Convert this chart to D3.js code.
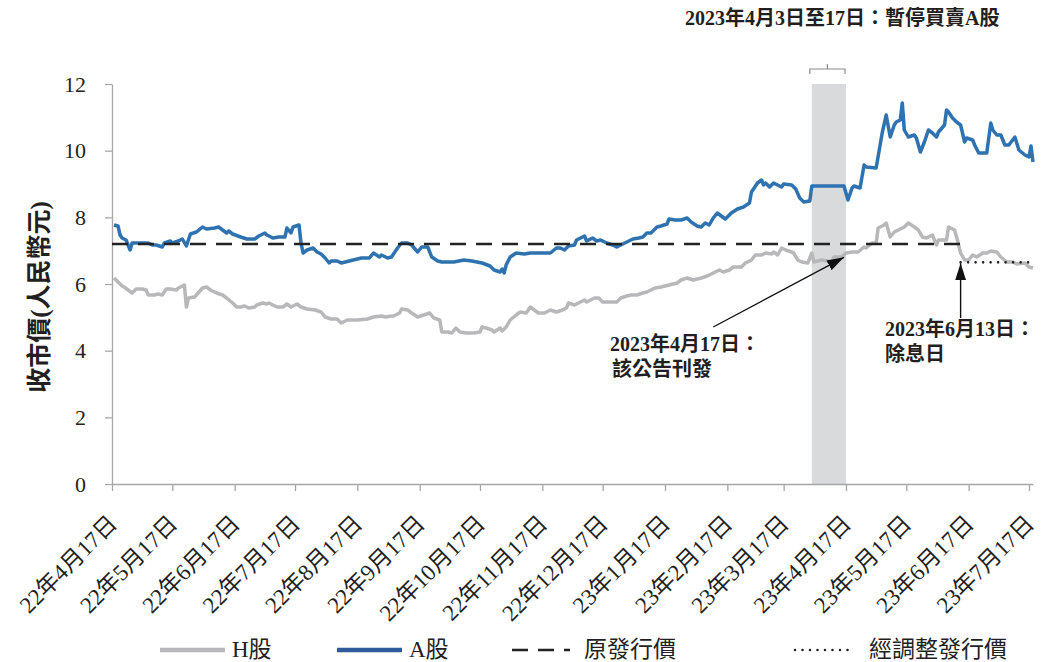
<!DOCTYPE html>
<html>
<head>
<meta charset="utf-8">
<script src="https://cdn.jsdelivr.net/npm/d3@7/dist/d3.min.js"></script>
<style>
body { margin: 0; background: #fff; }
text { font-family: "Liberation Serif", "Noto Sans CJK TC", serif; fill: #231f20; }
.axis path, .axis line { stroke: #a6a6a6; stroke-width: 1.3; }
</style>
</head>
<body>
<div id="chart"></div>
<script>
// A股 closing price (RMB)
const aDates = ["2022-04-18","2022-04-20","2022-04-21","2022-04-22","2022-04-24","2022-04-26","2022-04-27","2022-04-30","2022-05-05","2022-05-07","2022-05-09","2022-05-12","2022-05-13","2022-05-16","2022-05-17","2022-05-20","2022-05-22","2022-05-24","2022-05-26","2022-05-29","2022-06-01","2022-06-03","2022-06-07","2022-06-09","2022-06-13","2022-06-14","2022-06-16","2022-06-20","2022-06-23","2022-06-27","2022-06-29","2022-07-02","2022-07-03","2022-07-06","2022-07-09","2022-07-12","2022-07-13","2022-07-15","2022-07-16","2022-07-19","2022-07-20","2022-07-21","2022-07-23","2022-07-26","2022-07-28","2022-07-30","2022-08-01","2022-08-03","2022-08-04","2022-08-07","2022-08-09","2022-08-11","2022-08-15","2022-08-19","2022-08-23","2022-08-25","2022-08-28","2022-08-29","2022-09-01","2022-09-03","2022-09-06","2022-09-08","2022-09-11","2022-09-13","2022-09-16","2022-09-18","2022-09-21","2022-09-23","2022-09-26","2022-09-28","2022-10-04","2022-10-09","2022-10-13","2022-10-18","2022-10-22","2022-10-24","2022-10-27","2022-10-28","2022-10-29","2022-10-30","2022-11-01","2022-11-04","2022-11-08","2022-11-11","2022-11-14","2022-11-18","2022-11-21","2022-11-24","2022-11-26","2022-11-28","2022-11-30","2022-12-03","2022-12-04","2022-12-08","2022-12-09","2022-12-12","2022-12-14","2022-12-16","2022-12-19","2022-12-22","2022-12-24","2022-12-26","2022-12-29","2023-01-01","2023-01-04","2023-01-06","2023-01-08","2023-01-10","2023-01-13","2023-01-15","2023-01-18","2023-01-19","2023-01-22","2023-01-25","2023-01-28","2023-01-30","2023-02-02","2023-02-04","2023-02-06","2023-02-08","2023-02-10","2023-02-12","2023-02-14","2023-02-16","2023-02-19","2023-02-22","2023-02-25","2023-02-28","2023-03-01","2023-03-04","2023-03-06","2023-03-07","2023-03-08","2023-03-10","2023-03-12","2023-03-14","2023-03-16","2023-03-17","2023-03-21","2023-03-23","2023-03-25","2023-03-27","2023-03-30","2023-03-31","2023-04-16","2023-04-18","2023-04-20","2023-04-21","2023-04-24","2023-04-26","2023-04-27","2023-05-02","2023-05-05","2023-05-07","2023-05-09","2023-05-11","2023-05-12","2023-05-14","2023-05-15","2023-05-16","2023-05-18","2023-05-21","2023-05-22","2023-05-24","2023-05-26","2023-05-28","2023-05-30","2023-06-01","2023-06-02","2023-06-05","2023-06-06","2023-06-07","2023-06-09","2023-06-11","2023-06-13","2023-06-15","2023-06-16","2023-06-19","2023-06-20","2023-06-22","2023-06-26","2023-06-28","2023-06-29","2023-07-01","2023-07-03","2023-07-05","2023-07-07","2023-07-10","2023-07-12","2023-07-15","2023-07-17","2023-07-18","2023-07-19"];
const aValues = [7.77,7.74,7.47,7.38,7.32,7.02,7.23,7.23,7.23,7.17,7.17,7.11,7.23,7.29,7.23,7.29,7.35,7.14,7.50,7.56,7.71,7.65,7.68,7.71,7.53,7.59,7.50,7.41,7.35,7.35,7.44,7.53,7.47,7.38,7.41,7.41,7.68,7.53,7.71,7.77,7.23,6.93,7.02,7.08,6.96,6.90,6.78,6.63,6.69,6.69,6.63,6.66,6.72,6.78,6.78,6.93,6.81,6.87,6.78,6.81,7.08,7.23,7.23,7.17,6.96,7.11,7.11,6.81,6.69,6.66,6.66,6.72,6.69,6.63,6.54,6.42,6.36,6.45,6.33,6.57,6.81,6.93,6.90,6.93,6.93,6.93,6.93,7.08,7.08,7.02,7.14,7.17,7.32,7.44,7.29,7.38,7.29,7.32,7.23,7.17,7.11,7.17,7.26,7.35,7.38,7.41,7.53,7.53,7.71,7.74,7.80,7.95,7.92,7.92,7.98,7.86,7.74,7.71,7.83,7.77,7.98,8.13,8.04,7.95,8.13,8.25,8.31,8.43,8.76,9.03,9.12,8.97,9.03,8.91,9.03,8.97,8.91,9.00,8.97,8.85,8.58,8.46,8.49,8.94,8.94,8.52,8.88,8.94,8.88,9.57,9.51,9.48,10.53,11.07,10.41,10.77,10.86,10.92,11.43,10.62,10.41,10.47,10.38,9.96,10.26,10.62,10.53,10.41,10.56,10.77,11.22,11.16,10.98,10.86,10.77,10.26,10.38,10.32,10.17,9.93,9.93,10.83,10.62,10.47,10.47,10.17,10.17,10.41,10.02,9.87,9.81,10.14,9.66];

// H股 closing price (RMB)
const hDates = ["2022-04-18","2022-04-20","2022-04-22","2022-04-23","2022-04-25","2022-04-27","2022-04-29","2022-05-02","2022-05-04","2022-05-05","2022-05-08","2022-05-10","2022-05-12","2022-05-14","2022-05-16","2022-05-19","2022-05-20","2022-05-22","2022-05-23","2022-05-24","2022-05-25","2022-05-28","2022-05-29","2022-06-01","2022-06-03","2022-06-05","2022-06-08","2022-06-11","2022-06-13","2022-06-16","2022-06-18","2022-06-20","2022-06-22","2022-06-24","2022-06-27","2022-06-28","2022-07-01","2022-07-03","2022-07-04","2022-07-06","2022-07-08","2022-07-11","2022-07-13","2022-07-15","2022-07-18","2022-07-20","2022-07-23","2022-07-27","2022-07-30","2022-08-01","2022-08-04","2022-08-07","2022-08-09","2022-08-12","2022-08-17","2022-08-22","2022-08-25","2022-08-29","2022-08-31","2022-09-03","2022-09-04","2022-09-07","2022-09-08","2022-09-11","2022-09-13","2022-09-16","2022-09-19","2022-09-22","2022-09-24","2022-09-27","2022-09-28","2022-10-01","2022-10-03","2022-10-05","2022-10-07","2022-10-10","2022-10-14","2022-10-17","2022-10-18","2022-10-20","2022-10-23","2022-10-24","2022-10-27","2022-10-28","2022-10-30","2022-11-01","2022-11-04","2022-11-06","2022-11-09","2022-11-11","2022-11-13","2022-11-15","2022-11-18","2022-11-21","2022-11-24","2022-11-27","2022-11-29","2022-11-30","2022-12-03","2022-12-05","2022-12-08","2022-12-09","2022-12-13","2022-12-15","2022-12-17","2022-12-20","2022-12-24","2022-12-26","2022-12-29","2022-12-31","2023-01-03","2023-01-06","2023-01-08","2023-01-12","2023-01-15","2023-01-19","2023-01-23","2023-01-25","2023-01-28","2023-01-31","2023-02-04","2023-02-07","2023-02-10","2023-02-13","2023-02-15","2023-02-18","2023-02-20","2023-02-24","2023-02-26","2023-03-01","2023-03-03","2023-03-06","2023-03-08","2023-03-11","2023-03-12","2023-03-14","2023-03-16","2023-03-18","2023-03-21","2023-03-22","2023-03-24","2023-03-26","2023-03-29","2023-03-31","2023-04-01","2023-04-05","2023-04-08","2023-04-10","2023-04-11","2023-04-15","2023-04-17","2023-04-20","2023-04-23","2023-04-26","2023-04-27","2023-04-30","2023-05-02","2023-05-03","2023-05-06","2023-05-07","2023-05-09","2023-05-11","2023-05-13","2023-05-16","2023-05-18","2023-05-21","2023-05-23","2023-05-25","2023-05-27","2023-05-30","2023-06-01","2023-06-02","2023-06-06","2023-06-07","2023-06-10","2023-06-11","2023-06-13","2023-06-15","2023-06-17","2023-06-19","2023-06-21","2023-06-24","2023-06-26","2023-06-28","2023-07-01","2023-07-03","2023-07-06","2023-07-09","2023-07-11","2023-07-15","2023-07-17","2023-07-19"];
const hValues = [6.18,6.06,5.94,5.91,5.82,5.73,5.85,5.85,5.82,5.67,5.67,5.70,5.67,5.85,5.85,5.82,5.88,5.94,5.97,5.31,5.58,5.61,5.67,5.88,5.91,5.82,5.73,5.67,5.58,5.43,5.31,5.31,5.34,5.28,5.31,5.37,5.43,5.40,5.43,5.37,5.31,5.31,5.40,5.31,5.40,5.31,5.25,5.22,5.16,5.01,4.95,4.95,4.83,4.92,4.92,4.95,5.01,5.04,5.01,5.04,5.04,5.13,5.25,5.22,5.13,5.01,5.07,5.13,4.98,4.92,4.56,4.56,4.53,4.68,4.56,4.53,4.53,4.56,4.71,4.68,4.62,4.56,4.68,4.59,4.71,4.92,5.07,5.16,5.13,5.31,5.22,5.13,5.13,5.22,5.16,5.22,5.28,5.43,5.37,5.43,5.52,5.46,5.58,5.58,5.46,5.46,5.46,5.58,5.64,5.67,5.67,5.73,5.76,5.88,5.91,5.97,6.03,6.12,6.18,6.12,6.18,6.24,6.33,6.42,6.36,6.42,6.51,6.51,6.63,6.72,6.87,6.87,6.93,6.90,6.96,6.87,7.08,7.02,6.96,6.93,6.72,6.66,6.63,6.93,6.66,6.72,6.69,6.66,6.81,6.81,6.93,6.96,6.96,7.11,7.08,7.23,7.23,7.68,7.77,7.83,7.41,7.56,7.62,7.71,7.83,7.71,7.62,7.41,7.38,7.47,7.17,7.32,7.32,7.71,7.62,7.41,6.93,6.72,6.72,6.87,6.81,6.93,6.93,6.99,6.96,6.81,6.66,6.66,6.60,6.63,6.51,6.48];

// 原發行價 / 經調整發行價
const issueDates = ["2022-04-17","2023-06-13"], issueValues = [7.2,7.2];
const adjDates = ["2023-06-13","2023-07-19"], adjValues = [6.65,6.65];

// 暫停買賣 A股
const haltDates = ["2023-03-31","2023-04-17"];

const yTicks = [0,2,4,6,8,10,12];
const tickDates = ["2022-04-17","2022-05-17","2022-06-17","2022-07-17","2022-08-17","2022-09-17","2022-10-17","2022-11-17","2022-12-17","2023-01-17","2023-02-17","2023-03-17","2023-04-17","2023-05-17","2023-06-17","2023-07-17"];
const tickLabels = ["22年4月17日","22年5月17日","22年6月17日","22年7月17日","22年8月17日","22年9月17日","22年10月17日","22年11月17日","22年12月17日","23年1月17日","23年2月17日","23年3月17日","23年4月17日","23年5月17日","23年6月17日","23年7月17日"];

const W = 1045, H = 662,
	LEFT = 112, RIGHT = 1033, TOP = 84, BOTTOM = 484,
	GREY = "#b8b8ba", BLUE = "#2e72b0", BLUE_LEGEND = "#2f5a9c";

const parse = d3.timeParse("%Y-%m-%d");

const svg = d3.select("#chart").append("svg")
	.attr("width", W)
	.attr("height", H);

const x = d3.scaleTime().domain([parse("2022-04-17"), parse("2023-07-19")]).range([LEFT, RIGHT]);
const y = d3.scaleLinear().domain([0, 12]).range([BOTTOM, TOP]);

const toPts = (dates, vals) => dates.map((d, i) => ({date: parse(d), v: vals[i]}));
const line = d3.line().x(d => x(d.date)).y(d => y(d.v));

// suspension band
svg.append("rect")
	.attr("x", x(parse(haltDates[0])))
	.attr("y", TOP)
	.attr("width", x(parse(haltDates[1])) - x(parse(haltDates[0])))
	.attr("height", BOTTOM - TOP)
	.style("fill", "#d9dadc");

// bracket above the band
const bx0 = x(parse(haltDates[0])) - 2, bx1 = x(parse(haltDates[1])) - 1, bm = (bx0 + bx1) / 2;
svg.append("path")
	.attr("d", `M${bx0},74V69H${bx1}V74M${bm},69V64`)
	.style("fill", "none").style("stroke", "#8c8c8c").style("stroke-width", 1.2);

// axes
const yAxis = svg.append("g").attr("class", "axis")
	.attr("transform", `translate(${LEFT},0)`)
	.call(d3.axisLeft(y).tickValues(yTicks).tickSize(7).tickPadding(19).tickSizeOuter(0));
yAxis.selectAll("text").style("font-size", "22px");

const xAxis = svg.append("g").attr("class", "axis")
	.attr("transform", `translate(0,${BOTTOM})`)
	.call(d3.axisBottom(x).tickValues(tickDates.map(parse)).tickFormat((d, i) => tickLabels[i]).tickSize(7).tickSizeOuter(0));
xAxis.selectAll("text")
	.attr("x", 0).attr("y", 0).attr("dy", 0)
	.attr("text-anchor", "end")
	.attr("transform", "translate(6,41) rotate(-45)")
	.style("font-size", "23px");
svg.selectAll(".axis .domain, .axis line").style("stroke", "#a6a6a6");

// y title
svg.append("text")
	.attr("transform", "translate(48,297) rotate(-90)")
	.attr("text-anchor", "middle")
	.style("font-size", "25px").style("font-weight", "bold")
	.text("收市價(人民幣元)");

// price lines
svg.append("path").datum(toPts(hDates, hValues))
	.attr("d", line)
	.style("fill", "none").style("stroke", GREY).style("stroke-width", 3.5).style("stroke-linejoin", "round");
svg.append("path").datum(toPts(aDates, aValues))
	.attr("d", line)
	.style("fill", "none").style("stroke", BLUE).style("stroke-width", 3.5).style("stroke-linejoin", "round");

// issue price lines
svg.append("path").datum(toPts(issueDates, issueValues))
	.attr("d", line)
	.style("fill", "none").style("stroke", "#222").style("stroke-width", 2.6).style("stroke-dasharray", "16,10");
svg.append("path").datum(toPts(adjDates, adjValues))
	.attr("d", line)
	.style("fill", "none").style("stroke", "#222").style("stroke-width", 2.6)
	.style("stroke-dasharray", "0,7.5").style("stroke-linecap", "round");

// arrows
svg.append("defs").append("marker")
	.attr("id", "head")
	.attr("viewBox", "0 0 17 11")
	.attr("refX", 17).attr("refY", 5.5)
	.attr("markerWidth", 17).attr("markerHeight", 11)
	.attr("markerUnits", "userSpaceOnUse")
	.attr("orient", "auto")
	.append("path").attr("d", "M0,0L17,5.5L0,11Z").style("fill", "#111");

const arrows = [
	{from: ["2023-02-10", 4.71], to: ["2023-04-16", 6.8]},
	{from: ["2023-06-13", 4.98], to: ["2023-06-13", 6.62]}
];
arrows.forEach(a => {
	svg.append("line")
		.attr("x1", x(parse(a.from[0]))).attr("y1", y(a.from[1]))
		.attr("x2", x(parse(a.to[0]))).attr("y2", y(a.to[1]))
		.attr("marker-end", "url(#head)")
		.style("stroke", "#111").style("stroke-width", 1.4);
});

// notes
const notes = [
	{x: 685, y: 25, t: "2023年4月3日至17日：暫停買賣A股"},
	{x: 610, y: 351, t: "2023年4月17日："},
	{x: 612, y: 376, t: "該公告刊發"},
	{x: 885, y: 336, t: "2023年6月13日："},
	{x: 885, y: 361, t: "除息日"}
];
svg.selectAll(".note").data(notes).enter().append("text")
	.attr("class", "note")
	.attr("x", d => d.x).attr("y", d => d.y)
	.style("font-size", "20px").style("font-weight", "bold")
	.text(d => d.t);

// legend
const legend = [
	{x: 160, w: 65, label: "H股", color: GREY, dash: null, width: 4.5},
	{x: 337, w: 65, label: "A股", color: BLUE_LEGEND, dash: null, width: 4.5},
	{x: 512, w: 58, label: "原發行價", color: "#222", dash: "16,10", width: 2.6},
	{x: 795, w: 60, label: "經調整發行價", color: "#222", dash: "0,7.5", width: 2.6}
];
const lg = svg.selectAll(".legend").data(legend).enter().append("g").attr("class", "legend");
lg.append("line")
	.attr("x1", d => d.x).attr("x2", d => d.x + d.w)
	.attr("y1", 650).attr("y2", 650)
	.style("stroke", d => d.color).style("stroke-width", d => d.width)
	.style("stroke-dasharray", d => d.dash)
	.style("stroke-linecap", d => d.dash === "0,7.5" ? "round" : "butt");
lg.append("text")
	.attr("x", d => d.x + d.w + (d.dash ? 14 : 7))
	.attr("y", 657)
	.style("font-size", "23px")
	.text(d => d.label);
</script>
</body>
</html>
